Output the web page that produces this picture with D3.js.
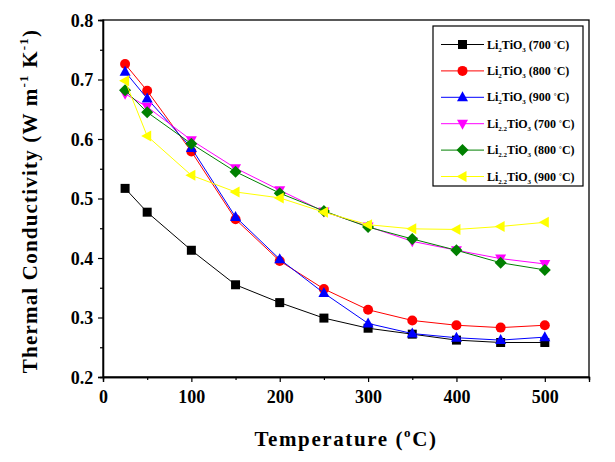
<!DOCTYPE html>
<html><head><meta charset="utf-8">
<script src="https://cdn.jsdelivr.net/npm/d3@7"></script>
<style>body{margin:0;background:#fff}svg text{font-family:"Liberation Serif","Times New Roman",serif;font-weight:bold}</style>
</head><body><svg id="c" width="615" height="462"></svg>
<script>
const temps = [25, 50, 100, 150, 200, 250, 300, 350, 400, 450, 500];
const li2_700 = [0.517, 0.477, 0.413, 0.355, 0.325, 0.299, 0.282, 0.272, 0.262, 0.258, 0.258];
const li2_800 = [0.726, 0.681, 0.579, 0.465, 0.395, 0.348, 0.313, 0.295, 0.287, 0.283, 0.287];
const li2_900 = [0.713, 0.668, 0.585, 0.469, 0.398, 0.341, 0.290, 0.273, 0.266, 0.262, 0.267];
const li22_700 = [0.676, 0.654, 0.598, 0.551, 0.514, 0.478, 0.453, 0.428, 0.413, 0.399, 0.390];
const li22_800 = [0.682, 0.645, 0.592, 0.545, 0.509, 0.479, 0.452, 0.432, 0.413, 0.392, 0.380];
const li22_900 = [0.698, 0.605, 0.539, 0.511, 0.501, 0.477, 0.456, 0.449, 0.448, 0.453, 0.460];
const seriesNames = ["Li2 700", "Li2 800", "Li2 900", "Li22 700", "Li22 800", "Li22 900"];
const legendSub = ["2", "2", "2", "2.2", "2.2", "2.2"];
const legendTemp = ["700", "800", "900", "700", "800", "900"];
const colors = ["#000000", "#ff0000", "#0000ff", "#ff00ff", "#008000", "#ffff00"];
const shapes = ["square", "circle", "up", "down", "diamond", "left"];
const xTicks = [0, 100, 200, 300, 400, 500];
const yTicks = [0.2, 0.3, 0.4, 0.5, 0.6, 0.7, 0.8];
const allSeries = [li2_700, li2_800, li2_900, li22_700, li22_800, li22_900];

const svg = d3.select("#c");
const x = d3.scaleLinear().domain([0, 550]).range([103, 589]);
const y = d3.scaleLinear().domain([0.2, 0.8]).range([377, 20]);

function marker(g, shape, cx, cy, color) {
  const s = 4.5;
  let path;
  if (shape === "square") path = `M${cx-s},${cy-s}h${2*s}v${2*s}h${-2*s}Z`;
  else if (shape === "circle") { g.append("circle").attr("cx", cx).attr("cy", cy).attr("r", 5).attr("fill", color); return; }
  else if (shape === "up") path = `M${cx},${cy-6}L${cx+5.5},${cy+4}L${cx-5.5},${cy+4}Z`;
  else if (shape === "down") path = `M${cx},${cy+6}L${cx+5.5},${cy-4}L${cx-5.5},${cy-4}Z`;
  else if (shape === "diamond") path = `M${cx},${cy-6}L${cx+6},${cy}L${cx},${cy+6}L${cx-6},${cy}Z`;
  else if (shape === "left") path = `M${cx-6},${cy}L${cx+4},${cy-5.5}L${cx+4},${cy+5.5}Z`;
  g.append("path").attr("d", path).attr("fill", color);
}

const xAxis = d3.axisBottom(x).tickValues(xTicks).tickSize(5).tickFormat(d3.format("d"));
const xMinor = d3.axisBottom(x).tickValues(d3.range(50, 551, 100)).tickSize(3).tickFormat("");
const yAxis = d3.axisLeft(y).tickValues(yTicks).tickSize(5).tickFormat(d3.format(".1f"));
const yMinor = d3.axisLeft(y).tickValues(d3.range(0.25, 0.8, 0.1)).tickSize(3).tickFormat("");

svg.append("rect").attr("x", 103).attr("y", 20).attr("width", 486).attr("height", 357)
  .attr("fill", "none").attr("stroke", "#000").attr("stroke-width", 1.3);

const gx = svg.append("g").attr("transform", "translate(0,377)").call(xAxis);
svg.append("g").attr("transform", "translate(0,377)").call(xMinor);
const gy = svg.append("g").attr("transform", "translate(103,0)").call(yAxis);
svg.append("g").attr("transform", "translate(103,0)").call(yMinor);
svg.selectAll(".domain").attr("stroke", "#000").attr("stroke-width", 1.3);
svg.selectAll(".tick line").attr("stroke", "#000").attr("stroke-width", 1.2);
gx.selectAll("text").attr("font-size", 18).attr("dy", "1.0em").attr("fill", "#000");
gy.selectAll("text").attr("font-size", 18).attr("dy", "0.35em").attr("dx", "-0.1em").attr("fill", "#000");

const line = d3.line().x((d, i) => x(temps[i])).y(d => y(d));
allSeries.forEach((vals, k) => {
  const g = svg.append("g").attr("class", "series").attr("data-name", seriesNames[k]);
  g.append("path").datum(vals).attr("d", line).attr("fill", "none").attr("stroke", colors[k]).attr("stroke-width", 1);
  vals.forEach((v, i) => marker(g, shapes[k], x(temps[i]), y(v), colors[k]));
});

const lg = svg.append("g");
lg.append("rect").attr("x", 433).attr("y", 26).attr("width", 150).attr("height", 160)
  .attr("fill", "#fff").attr("stroke", "#000").attr("stroke-width", 1.2);
seriesNames.forEach((n, k) => {
  const yy = 44.5 + k * 26.4;
  lg.append("line").attr("x1", 441).attr("x2", 484).attr("y1", yy).attr("y2", yy).attr("stroke", colors[k]).attr("stroke-width", 1);
  marker(lg, shapes[k], 462.5, yy, colors[k]);
  const t = lg.append("text").attr("x", 487).attr("y", yy + 4).attr("font-size", 12).attr("fill", "#000");
  t.append("tspan").text("Li");
  t.append("tspan").attr("font-size", 7).attr("dy", 3).text(legendSub[k]);
  t.append("tspan").attr("dy", -3).text("TiO");
  t.append("tspan").attr("font-size", 7).attr("dy", 3).text("3");
  t.append("tspan").attr("dy", -3).text(" (" + legendTemp[k] + " ");
  t.append("tspan").attr("font-size", 7).attr("dy", -3).text("°");
  t.append("tspan").attr("dy", 3).text("C)");
});

const xt = svg.append("text").attr("x", 346).attr("y", 446).attr("text-anchor", "middle")
  .attr("font-size", 21).attr("letter-spacing", 1.6).attr("fill", "#000");
xt.append("tspan").text("Temperature (");
xt.append("tspan").attr("font-size", 13).attr("dy", -9).text("o");
xt.append("tspan").attr("dy", 9).text("C)");

const yt = svg.append("text").attr("transform", "translate(37,201) rotate(-90)").attr("text-anchor", "middle")
  .attr("font-size", 21).attr("letter-spacing", 1.2).attr("fill", "#000");
yt.append("tspan").text("Thermal Conductivity (W m");
yt.append("tspan").attr("font-size", 13).attr("dy", -9).text("-1");
yt.append("tspan").attr("dy", 9).text(" K");
yt.append("tspan").attr("font-size", 13).attr("dy", -9).text("-1");
yt.append("tspan").attr("dy", 9).text(")");
</script></body></html>
